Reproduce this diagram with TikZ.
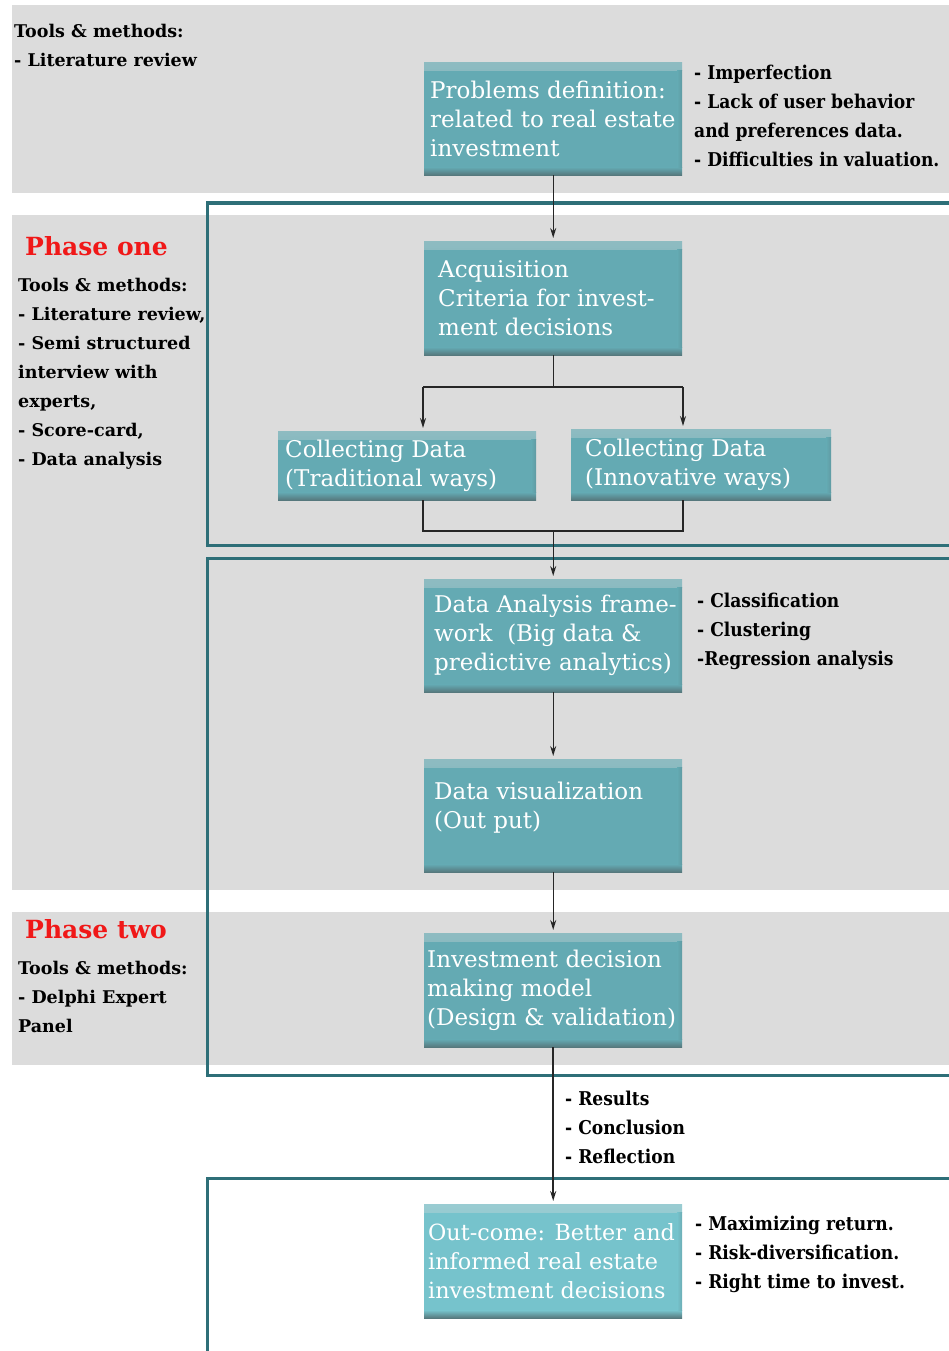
\documentclass[tikz,border=0pt]{standalone}
\usepackage{fontspec}
\setmainfont{DejaVu Serif}
\newfontfamily\notefont[FakeStretch=0.9]{DejaVu Serif}
\usetikzlibrary{arrows.meta}

\definecolor{bandgray}{HTML}{DCDCDC}
\definecolor{frameteal}{HTML}{2E6F78}
\definecolor{boxteal}{HTML}{64AAB3}
\definecolor{boxlight}{HTML}{76C3CC}
\definecolor{boxshade}{HTML}{56777C}
\definecolor{phasered}{HTML}{F01818}

\tikzset{
  stepbox/.style={rectangle, fill=#1, anchor=north west, inner sep=0pt,
    path picture={
      \shade[top color=#1!65!bandgray, bottom color=#1]
        (path picture bounding box.north west) rectangle ([yshift=-8pt]path picture bounding box.north east);
      \shade[top color=#1, bottom color=boxshade]
        ([yshift=8pt]path picture bounding box.south west) rectangle (path picture bounding box.south east);
      \shade[left color=#1, right color=#1!70!boxshade]
        ([xshift=-5pt,yshift=-8pt]path picture bounding box.north east) rectangle ([yshift=8pt]path picture bounding box.south east);
    }},
  stepbox/.default=boxteal,
  boxtext/.style={anchor=west, align=left, inner sep=0pt, text=white,
    font=\fontsize{23}{29}\selectfont},
  note/.style={anchor=base west, align=left, inner sep=0pt, text=black,
    font=\notefont\bfseries\fontsize{19}{29}\selectfont},
  tools/.style={anchor=base west, align=left, inner sep=0pt, text=black,
    font=\bfseries\fontsize{17.5}{29}\selectfont},
  phase/.style={anchor=base west, inner sep=0pt, text=phasered,
    font=\bfseries\fontsize{25}{30}\selectfont},
  frame/.style={draw=frameteal, line width=3pt},
  link/.style={draw=black!85, line width=1.4pt},
  conn/.style={link, -{Stealth[length=10pt,width=6pt]}, shorten >=3pt},
}

\begin{document}
\begin{tikzpicture}[x=1pt,y=-1pt]
\useasboundingbox (0,0) rectangle (949,1351);
\clip (0,0) rectangle (949,1351);

% grey bands
\fill[bandgray] (12,5) rectangle (949,193);
\fill[bandgray] (12,215) rectangle (949,890);
\fill[bandgray] (12,912) rectangle (949,1065);

% phase frames, open to the right
\draw[frame] (960,203) -- (207,203) -- (207,545) -- (960,545);
\draw[frame] (960,558) -- (207,558) -- (207,1075) -- (960,1075);
\draw[frame] (960,1178) -- (207,1178) -- (207,1370);

% process boxes
\node[stepbox, minimum width=258pt, minimum height=113pt] (prob) at (424,62) {};
\node[boxtext] (probt) at ([xshift=6pt]prob.west) {Problems definition:\\related to real estate\\investment};

\node[stepbox, minimum width=258pt, minimum height=114pt] (acq) at (424,241) {};
\node[boxtext] (acqt) at ([xshift=14pt]acq.west) {Acquisition\\Criteria for invest-\\ment decisions};

\node[stepbox, minimum width=258pt, minimum height=69pt] (trad) at (278,431) {};
\node[boxtext] (tradt) at ([xshift=7pt]trad.west) {Collecting Data\\(Traditional ways)};

\node[stepbox, minimum width=260pt, minimum height=71pt] (innov) at (571,429) {};
\node[boxtext] (innovt) at ([xshift=14pt]innov.west) {Collecting Data\\(Innovative ways)};

\node[stepbox, minimum width=258pt, minimum height=113pt] (ana) at (424,579) {};
\node[boxtext] (anat) at ([xshift=10pt]ana.west) {Data Analysis frame-\\work\ \ (Big data \&\\predictive analytics)};

\node[stepbox, minimum width=258pt, minimum height=113pt] (viz) at (424,759) {};
\node[boxtext] (vizt) at ([xshift=10pt,yshift=8pt]viz.west) {Data visualization\\(Out put)};

\node[stepbox, minimum width=258pt, minimum height=114pt] (inv) at (424,933) {};
\node[boxtext] (invt) at ([xshift=3pt]inv.west) {Investment decision\\making model\\(Design \& validation)};

\node[stepbox=boxlight, minimum width=258pt, minimum height=114pt] (out) at (424,1204) {};
\node[boxtext, font=\fontsize{22.3}{29}\selectfont] (outt) at ([xshift=4pt]out.west) {Out-come: Better and\\informed real estate\\investment decisions};

% connectors
\coordinate (splitL) at (423,387);
\coordinate (splitR) at (683,387);
\coordinate (mergeL) at (423,531);
\coordinate (mergeR) at (683,531);

\draw[conn] (prob.south) -- (acq.north);
\draw[link] (acq.south) -- (acq.south |- splitL);
\draw[link] (splitL) -- (splitR);
\draw[conn] (splitL) -- (splitL |- trad.north);
\draw[conn] (splitR) -- (splitR |- innov.north);
\draw[link] (mergeL |- trad.south) -- (mergeL) -- (mergeR) -- (mergeR |- innov.south);
\draw[conn] (acq.south |- mergeL) -- (ana.north);
\draw[conn] (ana.south) -- (viz.north);
\draw[conn] (viz.south) -- (inv.north);
\draw[conn, line width=2pt] (inv.south) -- (out.north);

% side notes (anchored at the baseline of their last line)
\node[tools] (tools0) at (14,67) {Tools \& methods:\\- Literature review};
\node[note] (probn) at (694,167) {- Imperfection\\- Lack of user behavior\\and preferences data.\\- Difficulties in valuation.};

\node[phase] (ph1) at (25,255) {Phase one};
\node[tools] (tools1) at (18,465) {Tools \& methods:\\- Literature review,\\- Semi structured\\interview with\\experts,\\- Score-card,\\- Data analysis};

\node[note] (anan) at (697,665) {- Classification\\- Clustering\\-Regression analysis};

\node[phase] (ph2) at (25,938) {Phase two};
\node[tools] (tools2) at (18,1032) {Tools \& methods:\\- Delphi Expert\\Panel};

\node[note] (resn) at (565,1163) {- Results\\- Conclusion\\- Reflection};
\node[note] (outn) at (695,1288) {- Maximizing return.\\- Risk-diversification.\\- Right time to invest.};
\end{tikzpicture}
\end{document}
